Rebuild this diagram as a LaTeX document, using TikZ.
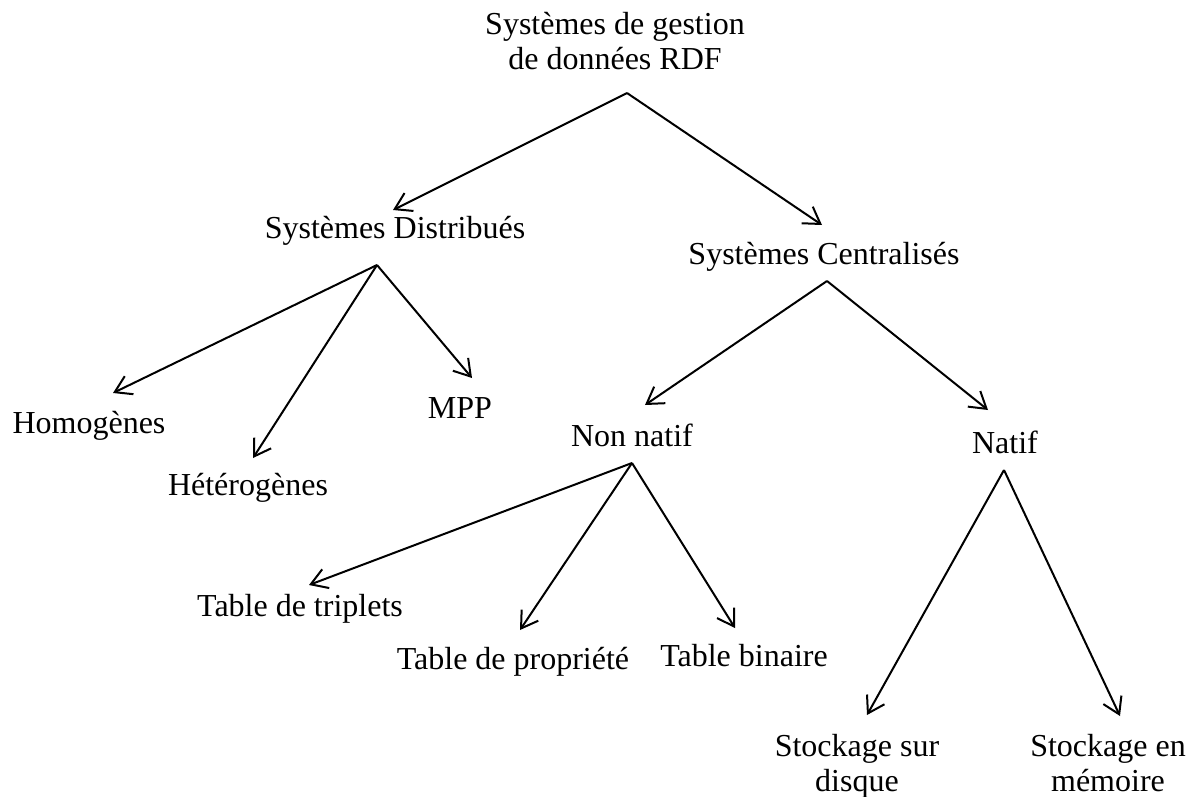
\documentclass[tikz,border=0pt]{standalone}
\usepackage{fontspec}
\setmainfont{Liberation Serif}
\usetikzlibrary{arrows.meta,calc}
\begin{document}
\begin{tikzpicture}[x=1pt,y=-1pt,
  lbl/.style={inner sep=0pt,align=center,font=\fontsize{32}{35}\selectfont,
    text height=22pt,text depth=7pt},
  arr/.style={line width=2pt,-{Straight Barb[length=16pt,width=20pt,line width=2pt]}}]
\useasboundingbox (0,0) rectangle (1203,796);
% tree labels
\node[lbl] (root) at (615,62) {Systèmes de gestion\\de données RDF};
\node[lbl] (dist) at (395,231) {Systèmes Distribués};
\node[lbl] (cent) at (824,257) {Systèmes Centralisés};
\node[lbl] (homo) at (89,426) {Homogènes};
\node[lbl] (hete) at (248,488) {Hétérogènes};
\node[lbl] (mpp) at (460,411) {MPP};
\node[lbl] (nonn) at (632,439) {Non natif};
\node[lbl] (nati) at (1005,446) {Natif};
\node[lbl] (trip) at (300,609) {Table de triplets};
\node[lbl] (prop) at (513,662) {Table de propriété};
\node[lbl] (bina) at (744,659) {Table binaire};
\node[lbl] (disq) at (857,784) {Stockage sur\\disque};
\node[lbl] (memo) at (1108,784) {Stockage en\\mémoire};
% branches
\draw[arr] ($(root)+(12,31)$) -- ($(dist)+(-2,-21)$);
\draw[arr] ($(root)+(12,31)$) -- ($(cent)+(-2,-32)$);
\draw[arr] ($(dist)+(-18,34)$) -- ($(homo)+(24,-33)$);
\draw[arr] ($(dist)+(-18,34)$) -- ($(hete)+(5,-30)$);
\draw[arr] ($(dist)+(-18,34)$) -- ($(mpp)+(12,-33)$);
\draw[arr] ($(cent)+(3,24)$) -- ($(nonn)+(13,-34)$);
\draw[arr] ($(cent)+(3,24)$) -- ($(nati)+(-17,-36)$);
\draw[arr] ($(nonn)+(0,24)$) -- ($(trip)+(9,-24)$);
\draw[arr] ($(nonn)+(0,24)$) -- ($(prop)+(7,-32)$);
\draw[arr] ($(nonn)+(0,24)$) -- ($(bina)+(-9,-31)$);
\draw[arr] ($(nati)+(-1,24)$) -- ($(disq)+(10,-69)$);
\draw[arr] ($(nati)+(-1,24)$) -- ($(memo)+(12,-68)$);
\end{tikzpicture}
\end{document}
